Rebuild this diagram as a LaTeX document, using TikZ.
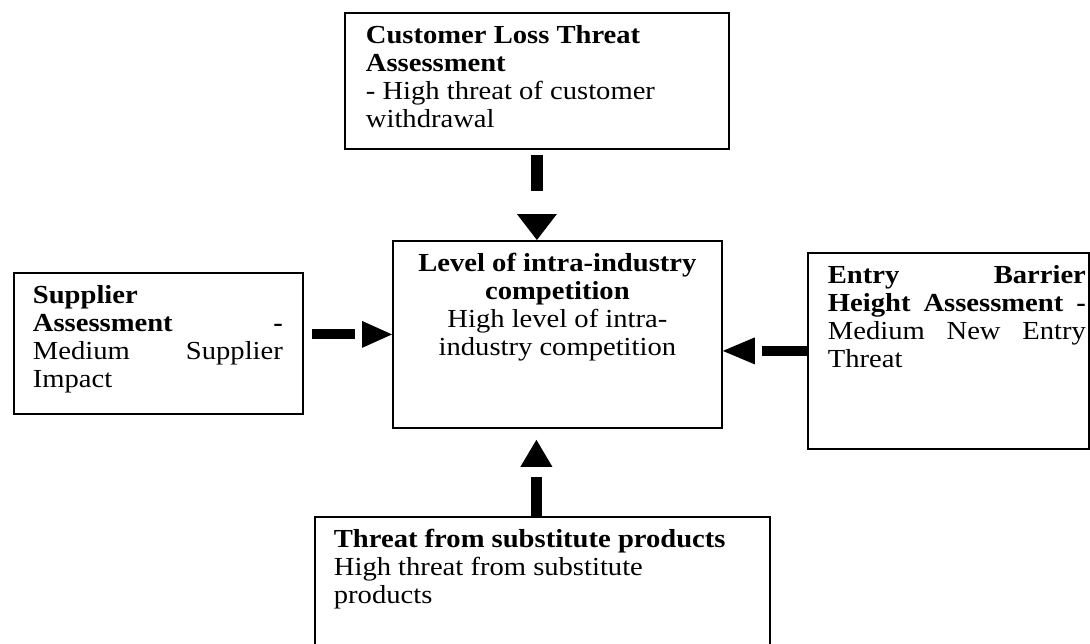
\documentclass[tikz,border=0pt]{standalone}
\usepackage{fontspec}
\setmainfont{Liberation Serif}[FakeStretch=1.1]
\usetikzlibrary{arrows.meta,calc}
\tikzstyle{panel}=[draw, line width=.9pt, inner sep=0pt, anchor=north west, font=\fontsize{13}{14}\selectfont]
\tikzstyle{flow}=[line width=5pt, dash pattern=on 21.5pt off 40pt]
% width, height, left inset, right inset, text
\newcommand{\boxtext}[5]{\parbox[t][#2][t]{#1}{\leftskip=#3\rightskip=#4\parindent=0pt\rule{0pt}{15.5pt}#5}}
\begin{document}
\begin{tikzpicture}[x=.5pt,y=-.5pt]
 \useasboundingbox[fill=white] (0,0) rectangle (1090,643);
%
 \node[panel] (cust) at (344,12) {\boxtext{192pt}{68pt}{10.5pt}{10pt}{\textbf{Customer Loss Threat}\\ \textbf{Assessment}\\ - High threat of customer\\ withdrawal}};
 \node[panel] (rivalry) at (392,240) {\boxtext{164.5pt}{93.5pt}{0pt}{0pt}{\centering\textbf{Level of intra-industry}\\ \textbf{competition}\\ High level of intra-\\ industry competition}};
 \node[panel] (supp) at (13,272) {\boxtext{144.5pt}{70.5pt}{9.5pt}{10pt}{\textbf{Supplier}\\ \textbf{Assessment}\hfill\textbf{-}\\ Medium\hfill Supplier\\ Impact}};
 \node[panel] (entry) at (807,252) {\boxtext{140.5pt}{98pt}{10pt}{1.5pt}{\textbf{Entry}\hfill\textbf{Barrier}\\ \textbf{Height}\hfill\textbf{Assessment}\hfill\textbf{-}\\ Medium\hfill New\hfill Entry\\ Threat}};
 \node[panel] (subs) at (314,516) {\boxtext{227.5pt}{70pt}{9.5pt}{9.5pt}{\textbf{Threat from substitute products}\\ High threat from substitute\\ products}};
 \coordinate (subtop) at ($(subs.north)+(-6,0)$);
%
 \draw[flow, line width=5.75pt, dash pattern=on 18pt off 40pt, -{Triangle[length=13pt,width=20pt,line width=0pt]}, shorten <=2.5pt] (cust.south) -- (cust.south |- rivalry.north);
 \draw[flow, -{Triangle[length=15pt,width=13.5pt,line width=0pt]}, shorten <=4pt] (supp.east |- rivalry.west) -- (rivalry.west);
 \draw[flow, dash pattern=on 22.5pt off 40pt, -{Triangle[length=16pt,width=13.5pt,line width=0pt]}] (entry.west) -- (rivalry.east |- entry.west);
 \draw[flow, line width=5.5pt, dash pattern=on 19.5pt off 40pt, -{Triangle[length=13.5pt,width=16pt,line width=0pt]}, shorten >=5.5pt] (subtop) -- (subtop |- rivalry.south);
\end{tikzpicture}
\end{document}
